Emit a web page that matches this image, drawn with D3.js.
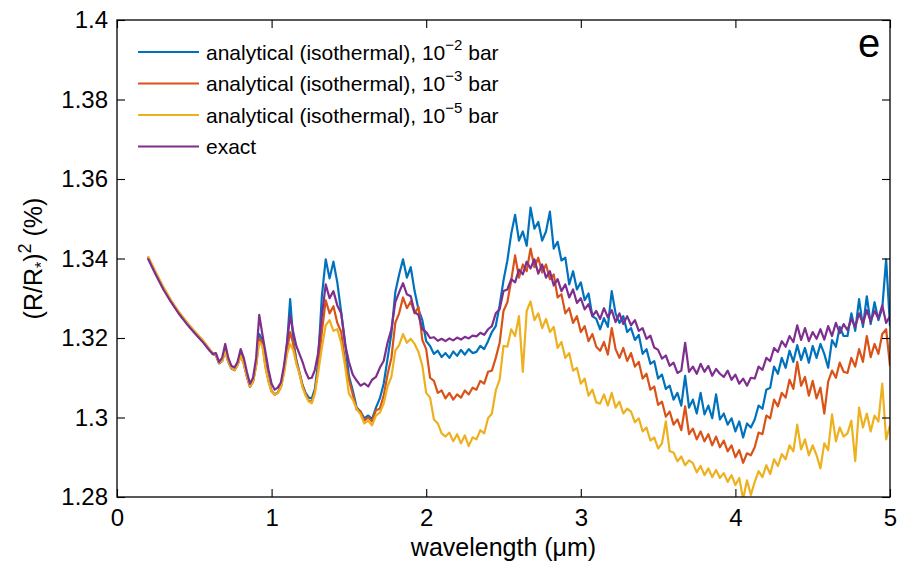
<!DOCTYPE html>
<html>
<head>
<meta charset="utf-8">
<script src="https://cdn.jsdelivr.net/npm/d3@7"></script>
<style>
  body { margin: 0; background: #fff; }
  svg text { font-family: "Liberation Sans", Arial, Helvetica, sans-serif; fill: #000; }
</style>
</head>
<body>
<svg id="chart" width="905" height="563"></svg>
<script>
// transit depth vs wavelength, panel e

// wavelength grid (micron)
var wavelength = [
  0.20, 0.25, 0.30, 0.35, 0.40, 0.45, 0.50, 0.55, 0.60,
  0.62, 0.64, 0.66, 0.68, 0.70, 0.72, 0.74,
  0.76, 0.78, 0.80, 0.82, 0.84, 0.86, 0.88,
  0.90, 0.92, 0.94, 0.96, 0.98, 1.00, 1.02,
  1.04, 1.06, 1.08, 1.10, 1.12, 1.14, 1.16,
  1.18, 1.20, 1.22, 1.24, 1.26, 1.28, 1.30,
  1.325, 1.35, 1.375, 1.40, 1.425, 1.45, 1.475, 1.50,
  1.525, 1.55, 1.575, 1.60, 1.625, 1.65, 1.675, 1.70,
  1.725, 1.75, 1.775, 1.80, 1.825, 1.85, 1.875, 1.90,
  1.925, 1.95, 1.975, 2.00, 2.025, 2.05, 2.075, 2.10,
  2.125, 2.15, 2.175, 2.20, 2.225, 2.25, 2.275, 2.30,
  2.325, 2.35, 2.375, 2.40, 2.425, 2.45, 2.475, 2.50,
  2.525, 2.55, 2.575, 2.60, 2.625, 2.65, 2.675, 2.70,
  2.725, 2.75, 2.775, 2.80, 2.825, 2.85, 2.875, 2.90,
  2.925, 2.95, 2.975, 3.00, 3.025, 3.05, 3.075, 3.10,
  3.125, 3.15, 3.175, 3.20, 3.225, 3.25, 3.275, 3.30,
  3.325, 3.35, 3.375, 3.40, 3.425, 3.45, 3.475, 3.50,
  3.525, 3.55, 3.575, 3.60, 3.625, 3.65, 3.675, 3.70,
  3.725, 3.75, 3.775, 3.80, 3.825, 3.85, 3.875, 3.90,
  3.925, 3.95, 3.975, 4.00, 4.025, 4.05, 4.075, 4.10,
  4.125, 4.15, 4.175, 4.20, 4.225, 4.25, 4.275, 4.30,
  4.325, 4.35, 4.375, 4.40, 4.425, 4.45, 4.475, 4.50,
  4.525, 4.55, 4.575, 4.60, 4.625, 4.65, 4.675, 4.70,
  4.725, 4.75, 4.775, 4.80, 4.825, 4.85, 4.875, 4.90,
  4.925, 4.95, 4.975, 5.00
];

// analytical (isothermal), 10^-2 bar
var iso2 = [
  1.3403, 1.3363, 1.3325, 1.3292, 1.3263, 1.3238, 1.3215, 1.3194, 1.3169,
  1.3159, 1.3157, 1.3136, 1.3142, 1.3170, 1.3140, 1.3124,
  1.3119, 1.3133, 1.3160, 1.3136, 1.3104, 1.3078, 1.3091,
  1.3135, 1.3210, 1.3195, 1.3135, 1.3094, 1.3066, 1.3058,
  1.3063, 1.3078, 1.3120, 1.3185, 1.3298, 1.3195, 1.3145,
  1.3114, 1.3082, 1.3062, 1.3050, 1.3048, 1.3072, 1.3135,
  1.3305, 1.3398, 1.3350, 1.3392, 1.3340, 1.3265, 1.3190, 1.3105,
  1.3068, 1.3025, 1.3015, 1.2998, 1.3005, 1.2996, 1.3025, 1.3048,
  1.3085, 1.3148, 1.3212, 1.3315, 1.3360, 1.3398, 1.3352, 1.3378,
  1.3318, 1.3272, 1.3245, 1.3192, 1.3180, 1.3160, 1.3168, 1.3152,
  1.3162, 1.3150, 1.3166, 1.3155, 1.3170, 1.3158, 1.3172, 1.3162,
  1.3165, 1.3180, 1.3172, 1.3192, 1.3215, 1.3230, 1.3282, 1.3345,
  1.3395, 1.3462, 1.3510, 1.3445, 1.3468, 1.3432, 1.3528, 1.3475,
  1.3492, 1.3445, 1.3468, 1.3518, 1.3425, 1.3442, 1.3395, 1.3402,
  1.3335, 1.3368, 1.3322, 1.3340, 1.3295, 1.3312, 1.3255, 1.3248,
  1.3222, 1.3250, 1.3228, 1.3318, 1.3262, 1.3238, 1.3255, 1.3215,
  1.3225, 1.3195, 1.3208, 1.3160, 1.3172, 1.3135, 1.3142, 1.3098,
  1.3108, 1.3072, 1.3080, 1.3045, 1.3062, 1.3030, 1.3105, 1.3025,
  1.3045, 1.3010, 1.3062, 1.3008, 1.3030, 1.2998, 1.3058, 1.2995,
  1.3010, 1.2982, 1.2998, 1.2965, 1.2990, 1.2950, 1.2985, 1.2975,
  1.2995, 1.3030, 1.3022, 1.3070, 1.3075, 1.3128, 1.3110, 1.3150,
  1.3125, 1.3168, 1.3140, 1.3182, 1.3145, 1.3175, 1.3138, 1.3180,
  1.3150, 1.3185, 1.3160, 1.3125, 1.3195, 1.3178, 1.3228, 1.3205,
  1.3205, 1.3262, 1.3218, 1.3298, 1.3228, 1.3305, 1.3235, 1.3290,
  1.3245, 1.3275, 1.3398, 1.3230
];

// analytical (isothermal), 10^-3 bar
var iso3 = [
  1.3404, 1.3364, 1.3326, 1.3293, 1.3264, 1.3239, 1.3216, 1.3195, 1.3170,
  1.3160, 1.3157, 1.3137, 1.3142, 1.3168, 1.3140, 1.3124,
  1.3119, 1.3132, 1.3157, 1.3135, 1.3104, 1.3077, 1.3090,
  1.3132, 1.3200, 1.3188, 1.3130, 1.3092, 1.3066, 1.3057,
  1.3062, 1.3076, 1.3115, 1.3170, 1.3215, 1.3185, 1.3140,
  1.3112, 1.3080, 1.3058, 1.3042, 1.3040, 1.3065, 1.3120,
  1.3215, 1.3295, 1.3262, 1.3280, 1.3238, 1.3215, 1.3142, 1.3095,
  1.3058, 1.3020, 1.3015, 1.2992, 1.3000, 1.2990, 1.3018, 1.3022,
  1.3055, 1.3108, 1.3150, 1.3238, 1.3262, 1.3302, 1.3275, 1.3292,
  1.3262, 1.3278, 1.3195, 1.3172, 1.3100, 1.3092, 1.3062, 1.3068,
  1.3048, 1.3062, 1.3045, 1.3058, 1.3050, 1.3068, 1.3058, 1.3075,
  1.3070, 1.3092, 1.3085, 1.3115, 1.3118, 1.3150, 1.3188, 1.3268,
  1.3290, 1.3345, 1.3408, 1.3352, 1.3385, 1.3368, 1.3425, 1.3378,
  1.3402, 1.3365, 1.3385, 1.3348, 1.3360, 1.3302, 1.3310, 1.3262,
  1.3275, 1.3238, 1.3255, 1.3215, 1.3230, 1.3192, 1.3210, 1.3178,
  1.3168, 1.3190, 1.3158, 1.3225, 1.3172, 1.3150, 1.3175, 1.3142,
  1.3162, 1.3128, 1.3140, 1.3098, 1.3110, 1.3070, 1.3078, 1.3032,
  1.3040, 1.3002, 1.3015, 1.2982, 1.2995, 1.2968, 1.3028, 1.2958,
  1.2972, 1.2945, 1.2965, 1.2940, 1.2958, 1.2930, 1.2952, 1.2925,
  1.2942, 1.2915, 1.2930, 1.2900, 1.2918, 1.2886, 1.2910, 1.2905,
  1.2925, 1.2962, 1.2958, 1.3005, 1.2998, 1.3045, 1.3028, 1.3062,
  1.3050, 1.3095, 1.3072, 1.3140, 1.3080, 1.3102, 1.3055, 1.3092,
  1.3048, 1.3075, 1.3010, 1.3090, 1.3118, 1.3100, 1.3138, 1.3115,
  1.3112, 1.3150, 1.3128, 1.3172, 1.3140, 1.3205, 1.3152, 1.3185,
  1.3160, 1.3210, 1.3222, 1.3130
];

// analytical (isothermal), 10^-5 bar
var iso5 = [
  1.3406, 1.3366, 1.3328, 1.3295, 1.3266, 1.3241, 1.3218, 1.3197, 1.3172,
  1.3162, 1.3158, 1.3138, 1.3142, 1.3165, 1.3140, 1.3125,
  1.3120, 1.3132, 1.3155, 1.3135, 1.3105, 1.3078, 1.3090,
  1.3130, 1.3190, 1.3180, 1.3125, 1.3090, 1.3065, 1.3057,
  1.3062, 1.3075, 1.3110, 1.3160, 1.3185, 1.3170, 1.3135,
  1.3110, 1.3075, 1.3055, 1.3040, 1.3036, 1.3060, 1.3110,
  1.3175, 1.3232, 1.3245, 1.3218, 1.3222, 1.3188, 1.3130, 1.3060,
  1.3045, 1.3022, 1.3008, 1.2985, 1.2992, 1.2980, 1.3005, 1.3012,
  1.3035, 1.3078, 1.3102, 1.3168, 1.3182, 1.3210, 1.3188, 1.3198,
  1.3185, 1.3165, 1.3130, 1.3062, 1.3050, 1.2995, 1.2985, 1.2960,
  1.2952, 1.2962, 1.2940, 1.2958, 1.2935, 1.2955, 1.2928, 1.2950,
  1.2945, 1.2968, 1.2960, 1.2998, 1.3010, 1.3068, 1.3095, 1.3180,
  1.3178, 1.3222, 1.3205, 1.3255, 1.3115, 1.3268, 1.3292, 1.3245,
  1.3262, 1.3225, 1.3248, 1.3215, 1.3228, 1.3175, 1.3190, 1.3150,
  1.3162, 1.3118, 1.3125, 1.3085, 1.3098, 1.3055, 1.3070, 1.3038,
  1.3035, 1.3058, 1.3030, 1.3062, 1.3025, 1.3040, 1.3010, 1.3022,
  1.3015, 1.2988, 1.2998, 1.2965, 1.2975, 1.2942, 1.2950, 1.2922,
  1.2935, 1.2990, 1.2915, 1.2912, 1.2890, 1.2902, 1.2880, 1.2892,
  1.2885, 1.2862, 1.2878, 1.2855, 1.2872, 1.2850, 1.2868, 1.2848,
  1.2860, 1.2838, 1.2855, 1.2830, 1.2848, 1.2795, 1.2842, 1.2805,
  1.2838, 1.2865, 1.2850, 1.2880, 1.2858, 1.2895, 1.2878, 1.2908,
  1.2895, 1.2930, 1.2915, 1.2982, 1.2920, 1.2945, 1.2905, 1.2930,
  1.2905, 1.2872, 1.2935, 1.2918, 1.3008, 1.2940, 1.2975, 1.2952,
  1.2960, 1.2992, 1.2890, 1.3025, 1.2975, 1.3010, 1.2965, 1.3005,
  1.2990, 1.3085, 1.2945, 1.2980
];

// exact
var exact = [
  1.3400, 1.3360, 1.3322, 1.3290, 1.3261, 1.3236, 1.3213, 1.3192, 1.3168,
  1.3160, 1.3162, 1.3140, 1.3150, 1.3185, 1.3150, 1.3130,
  1.3126, 1.3140, 1.3172, 1.3150, 1.3115, 1.3085, 1.3100,
  1.3150, 1.3258, 1.3210, 1.3165, 1.3120, 1.3085, 1.3070,
  1.3075, 1.3088, 1.3130, 1.3190, 1.3256, 1.3215, 1.3180,
  1.3160, 1.3140, 1.3115, 1.3098, 1.3100, 1.3120, 1.3160,
  1.3255, 1.3335, 1.3300, 1.3318, 1.3282, 1.3262, 1.3185, 1.3140,
  1.3108, 1.3093, 1.3080, 1.3086, 1.3078, 1.3095, 1.3102, 1.3125,
  1.3142, 1.3188, 1.3222, 1.3290, 1.3315, 1.3338, 1.3310, 1.3305,
  1.3265, 1.3258, 1.3222, 1.3215, 1.3200, 1.3202, 1.3193, 1.3198,
  1.3192, 1.3199, 1.3194, 1.3201, 1.3196, 1.3203, 1.3199, 1.3206,
  1.3204, 1.3213, 1.3208, 1.3222, 1.3230, 1.3262, 1.3272, 1.3318,
  1.3322, 1.3348, 1.3340, 1.3372, 1.3360, 1.3392, 1.3375, 1.3398,
  1.3362, 1.3385, 1.3352, 1.3368, 1.3332, 1.3348, 1.3318, 1.3335,
  1.3302, 1.3322, 1.3288, 1.3300, 1.3272, 1.3285, 1.3255, 1.3268,
  1.3248, 1.3275, 1.3252, 1.3270, 1.3240, 1.3262, 1.3235, 1.3255,
  1.3232, 1.3245, 1.3218, 1.3225, 1.3198, 1.3206, 1.3176, 1.3170,
  1.3148, 1.3156, 1.3130, 1.3138, 1.3112, 1.3118, 1.3188, 1.3115,
  1.3128, 1.3110, 1.3135, 1.3115, 1.3130, 1.3105, 1.3122, 1.3110,
  1.3102, 1.3118, 1.3095, 1.3108, 1.3085, 1.3098, 1.3080, 1.3100,
  1.3098, 1.3128, 1.3120, 1.3150, 1.3142, 1.3175, 1.3165, 1.3192,
  1.3178, 1.3205, 1.3190, 1.3232, 1.3195, 1.3225, 1.3192, 1.3215,
  1.3198, 1.3222, 1.3196, 1.3230, 1.3205, 1.3238, 1.3212, 1.3235,
  1.3220, 1.3248, 1.3228, 1.3262, 1.3236, 1.3270, 1.3242, 1.3268,
  1.3250, 1.3282, 1.3238, 1.3255
];

// legend texts, exponents and colours (matlab default order)
var seriesNames = ["analytical (isothermal), 10", "analytical (isothermal), 10", "analytical (isothermal), 10", "exact"];
var seriesExponents = ["\u22122", "\u22123", "\u22125", ""];
var seriesColors = ["#0072BD", "#D95319", "#EDB120", "#7E2F8E"];
var seriesValues = [iso2, iso3, iso5, exact];

// ticks
var xTicks = [0, 1, 2, 3, 4, 5];
var yTicks = [1.28, 1.3, 1.32, 1.34, 1.36, 1.38, 1.4];

// margins
var margin = {top: 20, right: 15, bottom: 66, left: 117};
var width = 905 - margin.left - margin.right;
var height = 563 - margin.top - margin.bottom;
var tickLen = 8;

var svg = d3.select("#chart");

var g = svg.append("g")
    .attr("transform", "translate(" + margin.left + "," + margin.top + ")");

// scales
var x = d3.scaleLinear()
    .domain([0, 5])
    .range([0, width]);

var y = d3.scaleLinear()
    .domain([1.28, 1.4])
    .range([height, 0]);

// clip for the lines
g.append("clipPath")
    .attr("id", "plotClip")
  .append("rect")
    .attr("width", width)
    .attr("height", height);

// lines
var line = d3.line()
    .x(function(d, i) { return x(wavelength[i]); })
    .y(function(d) { return y(d); });

g.append("g")
    .attr("clip-path", "url(#plotClip)")
  .selectAll("path")
  .data(seriesValues)
  .enter().append("path")
    .attr("d", line)
    .attr("fill", "none")
    .attr("stroke", function(d, i) { return seriesColors[i]; })
    .attr("stroke-width", 2.2)
    .attr("stroke-linejoin", "round");

// axes, ticks pointing inwards like matlab
g.append("g")
    .attr("class", "x axis")
    .attr("transform", "translate(0," + height + ")")
    .call(d3.axisBottom(x).tickValues(xTicks).tickFormat(d3.format("d"))
      .tickSizeInner(-tickLen).tickSizeOuter(0).tickPadding(12));

g.append("g")
    .attr("class", "y axis")
    .call(d3.axisLeft(y).tickValues(yTicks).tickFormat(function(d) { return +d.toFixed(2); })
      .tickSizeInner(-tickLen).tickSizeOuter(0).tickPadding(9));

g.append("g")
    .call(d3.axisTop(x).tickValues(xTicks).tickFormat("")
      .tickSizeInner(-tickLen).tickSizeOuter(0));

g.append("g")
    .attr("transform", "translate(" + width + ",0)")
    .call(d3.axisRight(y).tickValues(yTicks).tickFormat("")
      .tickSizeInner(-tickLen).tickSizeOuter(0));

g.selectAll(".domain").remove();
g.selectAll(".tick line").attr("stroke", "#000").attr("stroke-width", 1.1);
g.selectAll(".tick text")
    .style("font-size", "24px")
    .attr("fill", "#000");

// box round the plot
g.append("rect")
    .attr("width", width)
    .attr("height", height)
    .attr("fill", "none")
    .attr("stroke", "#000")
    .attr("stroke-width", 1.3);

// x label
svg.append("text")
    .attr("x", margin.left + width / 2)
    .attr("y", 556)
    .attr("text-anchor", "middle")
    .style("font-size", "25px")
    .text("wavelength (\u03bcm)");

// y label
var yLabel = svg.append("text")
    .attr("transform", "translate(42," + (margin.top + height / 2) + ") rotate(-90)")
    .attr("text-anchor", "middle")
    .style("font-size", "25px");

yLabel.append("tspan").text("(R/R");
yLabel.append("tspan").attr("dy", 5).style("font-size", "16px").text("*");
yLabel.append("tspan").attr("dy", -5).text(")");
yLabel.append("tspan").attr("dy", -11).style("font-size", "18px").text("2");
yLabel.append("tspan").attr("dy", 11).text(" (%)");

// panel letter
svg.append("text")
    .attr("x", 869)
    .attr("y", 57)
    .attr("text-anchor", "middle")
    .style("font-size", "40px")
    .text("e");

// legend
var legend = svg.append("g")
  .selectAll("g")
  .data(seriesNames)
  .enter().append("g")
    .attr("transform", function(d, i) { return "translate(138," + (52 + i * 31.5) + ")"; });

legend.append("line")
    .attr("x1", 0)
    .attr("x2", 61)
    .attr("stroke", function(d, i) { return seriesColors[i]; })
    .attr("stroke-width", 2.2);

var legendText = legend.append("text")
    .attr("x", 68)
    .attr("y", 7.5)
    .style("font-size", "21px");

legendText.append("tspan").text(function(d) { return d; });
legendText.append("tspan")
    .attr("dy", -10)
    .style("font-size", "15px")
    .text(function(d, i) { return seriesExponents[i]; });
legendText.append("tspan")
    .attr("dy", 10)
    .text(function(d, i) { return seriesExponents[i] ? " bar" : ""; });
</script>
</body>
</html>
